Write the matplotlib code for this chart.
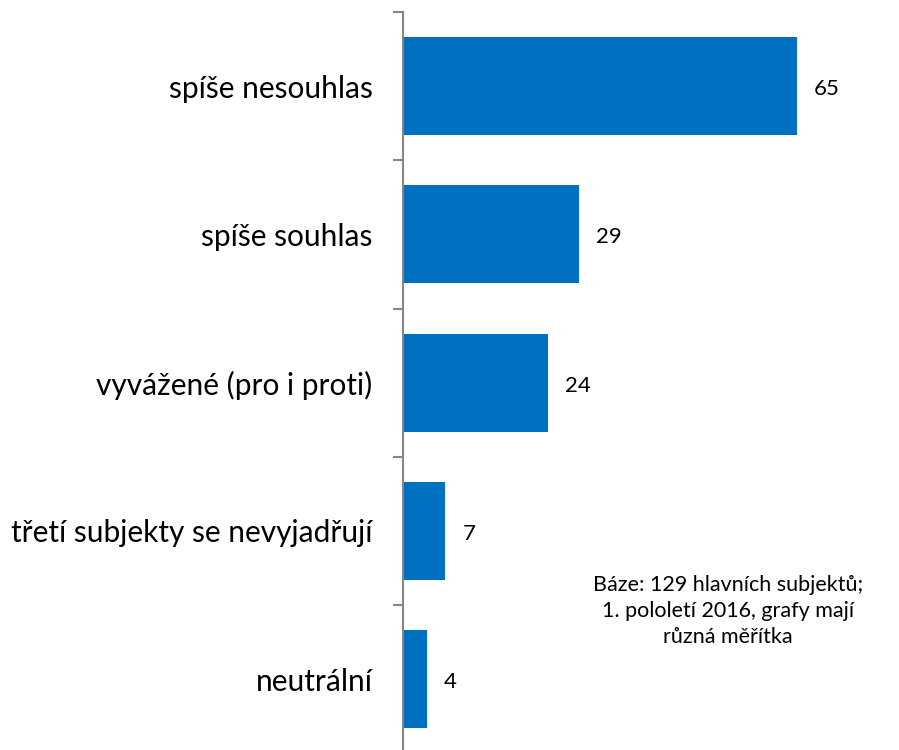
import matplotlib
matplotlib.use("Agg")
import matplotlib.pyplot as plt
from matplotlib.ticker import FixedLocator

categories = ["spíše nesouhlas", "spíše souhlas", "vyvážené (pro i proti)",
              "třetí subjekty se nevyjadřují", "neutrální"]
values = [65, 29, 24, 7, 4]
note = "Báze: 129 hlavních subjektů;\n1. pololetí 2016, grafy mají\nrůzná měřítka"

plt.rcParams['font.family'] = ['Lato', 'DejaVu Sans']

fig = plt.figure(figsize=(8.99, 7.5), dpi=100)
ax = fig.add_axes([403/899, 1 - 753.25/750, 1 - 403/899, 741.25/750])

n = len(categories)
ypos = list(range(n))
bars = ax.barh(ypos, values, height=0.66, color="#0070C0", zorder=2)
ax.set_ylim(n - 0.5, -0.5)
ax.set_xlim(0, (899 - 403) / (394 / 65))

for y, v in zip(ypos, values):
    ax.text(v + 2.8, y + 0.02, str(v), va="center", ha="left", fontsize=16, color="#000000")

ax.set_yticks(ypos)
ax.set_yticklabels(categories, fontsize=21.5)
ax.yaxis.set_minor_locator(FixedLocator([i - 0.5 for i in range(n + 1)]))
ax.tick_params(axis="y", which="major", length=0, pad=22)
ax.tick_params(axis="y", which="minor", length=7.5, width=1.5, color="#868686")
ax.set_xticks([])
for s in ["top", "right", "bottom"]:
    ax.spines[s].set_visible(False)
ax.spines["left"].set_color("#868686")
ax.spines["left"].set_linewidth(1.5)

fig.text(728/899, 1 - 611/750, note, ha="center", va="center", fontsize=15.5,
         linespacing=1.4, color="#000000")

fig.savefig("out.png", dpi=100)
